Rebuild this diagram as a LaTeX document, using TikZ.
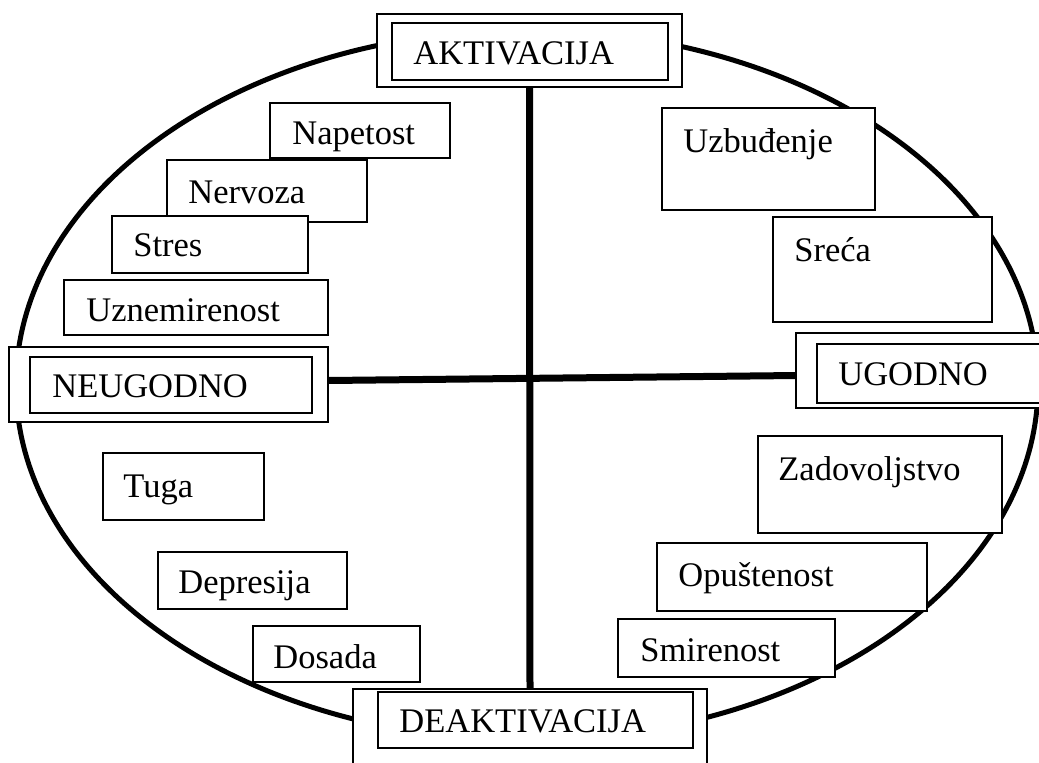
\documentclass[tikz,border=0pt]{standalone}
\usepackage{fontspec}
\setmainfont{Liberation Serif}
\usetikzlibrary{calc}
\tikzset{
  emobox/.style={draw=black, fill=white, line width=1pt, inner sep=0pt, outer sep=0pt},
  dblbox/.style={draw=black, fill=white, line width=1.2pt, inner sep=0pt, outer sep=0pt},
  lbl/.style={anchor=base west, inner sep=0pt, text=black, font=\fontsize{17.25}{20}\selectfont},
  ell/.style={draw=black, line width=2.5pt},
  axis/.style={draw=black, line width=3.5pt}
}
\newcommand{\pbox}[6]{% style, name, x1, y1, x2, y2
  \node[#1, minimum width={(#5-#3)*0.5pt}, minimum height={(#6-#4)*0.5pt}] (#2) at ({(#3+#5)/2},{(#4+#6)/2}) {};}
\begin{document}
\begin{tikzpicture}[x=0.5pt,y=-0.5pt]
\path[use as bounding box] (0,0) rectangle (1039,762);
\clip (0,0) rectangle (1039,762);
% ellipse
\draw[ell] (527,385) ellipse [x radius=511, y radius=355];
% axis boxes (outer)
\pbox{dblbox}{akt}{377}{14}{682}{87}
\pbox{dblbox}{neu}{9}{347}{328}{422}
\pbox{dblbox}{ugo}{796}{333}{1060}{408}
\pbox{dblbox}{deakt}{353}{689}{707}{768}
% axes
\draw[axis] (akt.south) -- (deakt.north);
\draw[axis] ($(neu.east)+(0,-4)$) -- ($(ugo.west)+(0,5)$);
% inner boxes
\pbox{dblbox}{akti}{392}{23}{668}{80}
\pbox{dblbox}{neui}{30}{357}{312}{413}
\pbox{dblbox}{ugoi}{817}{344}{1060}{403}
\pbox{dblbox}{deakti}{378}{692}{693}{748}
\node[lbl] (takt) at (413,64) {AKTIVACIJA};
\node[lbl] (tneu) at (52,397) {NEUGODNO};
\node[lbl] (tugo) at (838,385) {UGODNO};
\node[lbl] (tdeakt) at (399,732) {DEAKTIVACIJA};
% emotion boxes
\pbox{emobox}{nap}{270}{103}{450}{158}
\node[lbl] (tnap) at (292,144) {Napetost};
\pbox{emobox}{nerv}{167}{160}{367}{222}
\node[lbl] (tnerv) at (188,203) {Nervoza};
\pbox{emobox}{stres}{112}{216}{308}{273}
\node[lbl] (tstres) at (133,256) {Stres};
\pbox{emobox}{uzn}{64}{280}{328}{335}
\node[lbl] (tuzn) at (86,321) {Uznemirenost};
\pbox{emobox}{tuga}{103}{453}{264}{520}
\node[lbl] (ttuga) at (123,497) {Tuga};
\pbox{emobox}{dep}{158}{552}{347}{609}
\node[lbl] (tdep) at (178,593) {Depresija};
\pbox{emobox}{dos}{253}{626}{420}{682}
\node[lbl] (tdos) at (273,668) {Dosada};
\pbox{emobox}{uzb}{662}{108}{875}{210}
\node[lbl] (tuzb) at (683,152) {Uzbuđenje};
\pbox{emobox}{sre}{773}{217}{992}{322}
\node[lbl] (tsre) at (794,261) {Sreća};
\pbox{emobox}{zad}{758}{436}{1002}{533}
\node[lbl] (tzad) at (778,480) {Zadovoljstvo};
\pbox{emobox}{opu}{657}{543}{927}{611}
\node[lbl] (topu) at (678,586) {Opuštenost};
\pbox{emobox}{smi}{618}{619}{835}{677}
\node[lbl] (tsmi) at (640,661) {Smirenost};
\end{tikzpicture}
\end{document}
